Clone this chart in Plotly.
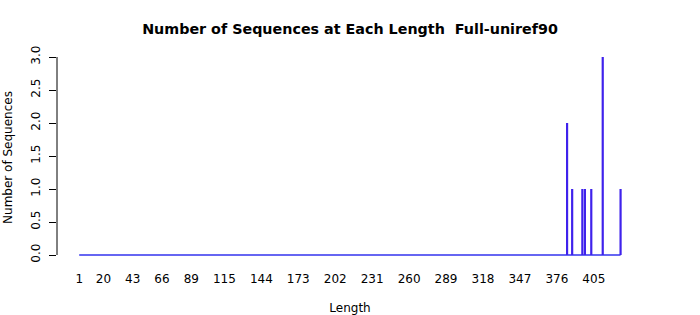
import plotly.graph_objects as go

# Data
lengths = [384, 388, 396, 398, 403, 412, 426]
counts = [2, 1, 1, 1, 1, 3, 1]
min_length = 1
max_length = 426
x_tick_labels = [1, 20, 43, 66, 89, 115, 144, 173, 202, 231, 260, 289, 318, 347, 376, 405]
y_tick_vals = [0.0, 0.5, 1.0, 1.5, 2.0, 2.5, 3.0]

FONT = "DejaVu Sans"

fig = go.Figure()

# baseline (zero-height bars)
fig.add_trace(go.Scatter(
    x=[min_length, max_length], y=[0, 0], mode="lines",
    line=dict(color="#3333EE", width=1.3), hoverinfo="skip", showlegend=False))

# vertical bars as spikes
xs, ys = [], []
for L, c in zip(lengths, counts):
    xs += [L, L, None]
    ys += [0, c, None]
fig.add_trace(go.Scatter(
    x=xs, y=ys, mode="lines",
    line=dict(color="#3F22EC", width=2.2), showlegend=False))

# y axis line only between 0 and 3 (R style)
fig.add_shape(type="line", xref="paper", yref="y", x0=0, x1=0,
              y0=y_tick_vals[0], y1=y_tick_vals[-1],
              line=dict(color="black", width=1))

px_per_unit = 1.2738
left, right = 57, 643
x0 = 1 - (79.2 - left) / px_per_unit
x1 = 1 + (right - 79.2) / px_per_unit

top, bottom = 50, 265
ppy = 66.0
y0 = -(bottom - 255) / ppy
y1 = 3 + (57 - top) / ppy

fig.update_layout(
    width=700, height=315,
    margin=dict(l=left, r=700 - right, t=top, b=315 - bottom, autoexpand=False),
    paper_bgcolor="white", plot_bgcolor="white",
    font=dict(family=FONT, size=12, color="black"),
    title=dict(text="<b>Number of Sequences at Each Length  Full-uniref90</b>",
               xref="paper", xanchor="center", y=1 - 29 / 315, yanchor="middle",
               font=dict(family=FONT, size=14.3, color="black")),
    showlegend=False,
)
fig.update_layout(title_x=(350 - left) / (right - left))

fig.update_xaxes(
    range=[x0, x1], showgrid=False, zeroline=False, showline=False, automargin=False,
    tickmode="array", tickvals=x_tick_labels, ticktext=[str(v) for v in x_tick_labels],
    ticks="", ticklabelstandoff=5,
    tickfont=dict(family=FONT, size=12, color="black"),
    title=dict(text="Length", font=dict(family=FONT, size=12, color="black"), standoff=20),
)
fig.update_yaxes(
    range=[y0, y1], showgrid=False, zeroline=False, showline=False, automargin=False,
    tickmode="array", tickvals=y_tick_vals, ticktext=[f"{v:.1f}" for v in y_tick_vals],
    ticks="outside", ticklen=7, tickcolor="black", tickwidth=1,
    tickangle=-90, ticklabelstandoff=4,
    tickfont=dict(family=FONT, size=12, color="black"),
    title=dict(text="Number of Sequences", font=dict(family=FONT, size=12, color="black"), standoff=14),
)

fig.write_html("out.html")
